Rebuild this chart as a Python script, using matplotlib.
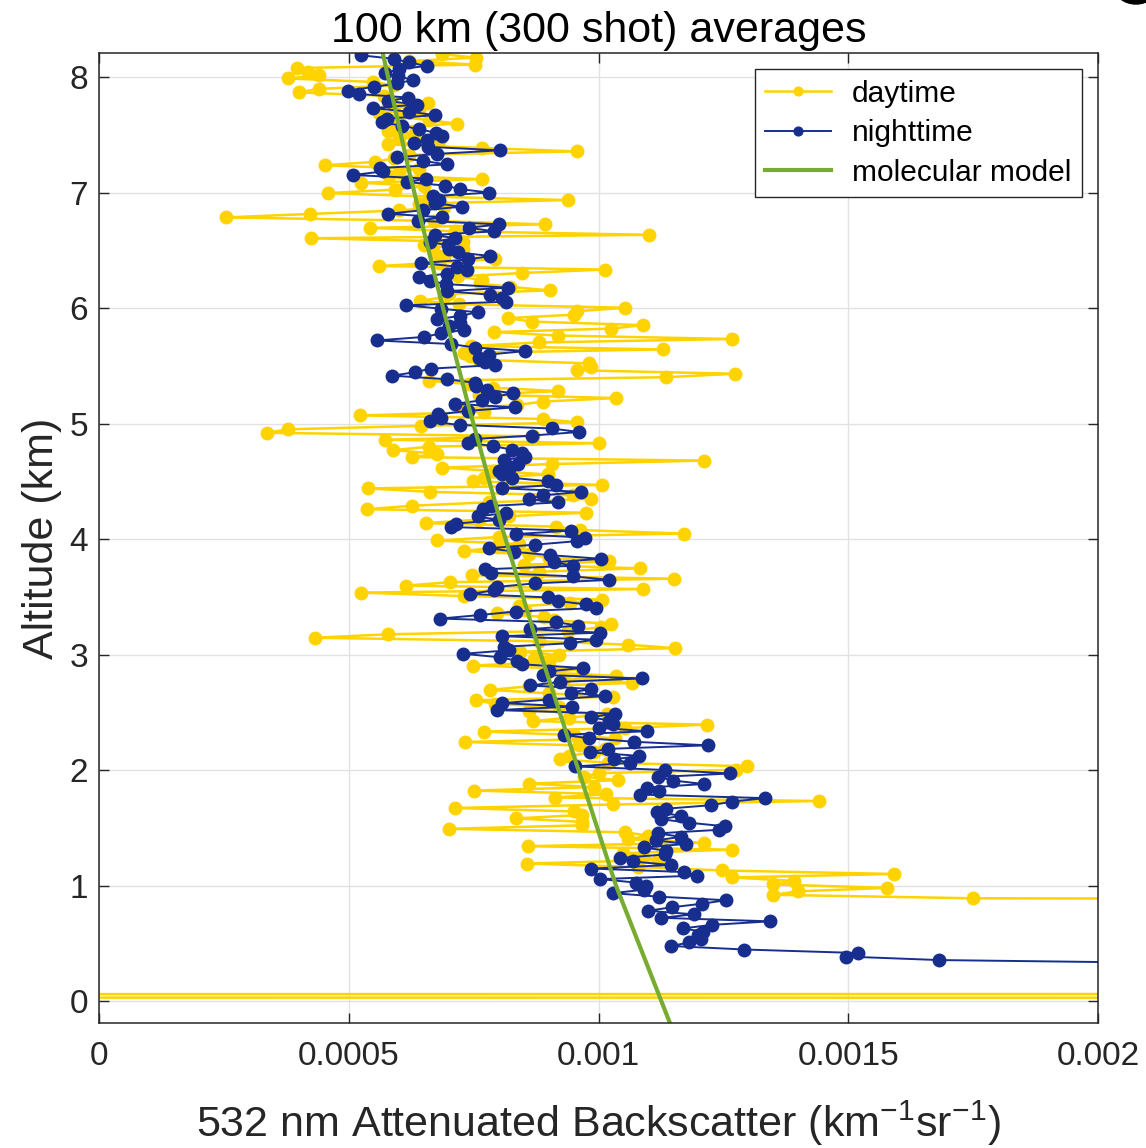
import numpy as np
import matplotlib
matplotlib.use("Agg")
import matplotlib.pyplot as plt
from matplotlib.patches import Ellipse

plt.rcParams['font.family'] = ['Liberation Sans', 'DejaVu Sans']
plt.rcParams['mathtext.default'] = 'regular'

# ---------------- data (backscatter in units of 1e-4 km^-1 sr^-1) ----------------
SCALE = 1e-4

# daytime profile, 30 m bins from the top (8.20 km) down to 0.89 km
day_vals = [
    6.87, 7.55, 6.2, 7.53, 3.96, 4.19, 4.40, 3.79, 5.49, 5.9,
    4.40, 4.00, 5.7, 6.2, 6.58, 5.9, 6.4, 5.6, 6.0, 6.6,
    7.16, 5.9, 5.78, 6.3, 6.0, 6.8, 5.79, 7.66, 9.56, 6.2,
    5.9, 5.53, 4.52, 6.4, 6.0, 5.8, 7.66, 5.24, 6.5, 5.93,
    4.59, 6.6, 9.38, 6.4, 6.9, 6.0, 4.22, 2.54, 6.7, 8.93,
    5.43, 7.13, 11.02, 4.24, 7.29, 6.5, 7.29, 6.7, 6.9, 7.93,
    6.8, 5.61, 10.13, 8.47, 7.19, 7.66, 7.62, 8.23, 9.03, 7.0,
    6.9, 6.43, 7.2, 10.54, 9.57, 9.5, 8.19, 8.67, 10.89, 10.26,
    7.91, 9.19, 12.67, 8.80, 7.45, 11.29, 7.3, 7.42, 7.6, 9.80,
    9.84, 9.57, 12.73, 11.35, 6.60, 7.4, 7.88, 9.19, 7.6, 10.36,
    8.88, 8.37, 7.3, 7.7, 5.23, 8.88, 9.57, 6.45, 3.78, 3.36,
    8.69, 5.72, 10.01, 6.60, 5.89, 6.77, 6.26, 12.12, 9.06, 6.87,
    7.9, 8.98, 7.7, 7.48, 10.07, 5.39, 6.62, 9.49, 9.85, 7.8,
    6.26, 5.36, 9.74, 8.2, 7.6, 6.54, 9.15, 9.63, 11.71, 8.0,
    6.77, 8.4, 7.98, 7.31, 8.6, 9.0, 10.22, 8.5, 10.83, 8.8,
    7.46, 11.51, 7.02, 6.14, 10.89, 5.24, 7.31, 10.07, 9.42, 8.4,
    8.53, 7.96, 8.9, 9.1, 10.26, 10.05, 9.38, 5.79, 4.32, 8.8,
    10.60, 11.54, 8.42, 9.2, 8.7, 9.0, 7.48, 9.67, 8.98, 10.36,
    9.3, 10.68, 8.6, 7.82, 9.0, 10.30, 7.54, 7.92, 9.2, 8.61,
    10.18, 9.4, 8.69, 12.17, 10.53, 7.71, 9.5, 10.33, 7.32, 9.6,
    10.14, 9.9, 9.4, 9.22, 10.2, 12.98, 12.76, 10.0, 9.7, 10.4,
    8.61, 9.9, 7.51, 10.15, 9.12, 14.41, 10.3, 7.13, 9.50, 9.66,
    8.35, 9.66, 9.66, 7.00, 10.54, 11.0, 10.6, 12.11, 8.58, 12.67,
    10.50, 10.9, 11.2, 8.56, 10.8, 12.47, 15.91, 12.67, 13.92, 13.50,
    15.78, 14.00, 13.50, 17.50,
]
day_top_km, day_bottom_km = 8.20, 0.89
# off-scale daytime bins below the cloud-free part (surface return)
day_tail_alt = [0.86, 0.075, 0.045, 0.015]
day_tail_vals = [60.0, 400.0, -400.0, 400.0]

# nighttime profile, 30 m bins from 8.19 km down to 0.355 km
night_vals = [
    5.25, 5.9, 6.2, 6.56, 6.0, 5.73, 5.99, 6.29, 5.96, 5.5,
    4.98, 5.21, 6.19, 5.79, 6.36, 5.49, 6.21, 6.73, 5.76, 5.66,
    6.06, 6.4, 6.75, 6.86, 6.56, 6.3, 6.58, 8.03, 6.76, 5.96,
    6.49, 6.96, 5.63, 5.68, 5.08, 6.55, 6.16, 6.93, 7.23, 7.81,
    6.69, 6.81, 6.73, 7.26, 6.48, 5.79, 6.86, 6.39, 8.01, 7.41,
    7.91, 6.73, 7.13, 6.63, 6.99, 7.0, 7.19, 7.83, 7.39, 6.44,
    7.16, 7.36, 6.96, 6.41, 6.63, 6.95, 8.19, 6.96, 7.82, 8.07,
    8.14, 6.14, 6.85, 7.58, 7.23, 6.77, 7.22, 7.0, 7.31, 6.85,
    6.50, 5.56, 7.04, 7.52, 8.53, 7.81, 7.6, 7.73, 7.92, 6.64,
    6.33, 5.87, 6.96, 7.52, 7.54, 7.77, 8.29, 7.92, 7.67, 7.12,
    8.32, 7.38, 6.79, 6.85, 6.62, 7.22, 9.06, 9.61, 8.67, 7.52,
    7.38, 7.88, 8.27, 8.46, 8.53, 8.11, 8.38, 8.23, 8.00, 8.07,
    8.27, 8.99, 9.15, 8.07, 9.65, 8.88, 8.6, 9.19, 7.85, 7.69,
    8.15, 7.58, 8.00, 7.15, 7.04, 9.45, 8.34, 9.72, 9.57, 8.73,
    7.81, 8.30, 9.03, 10.05, 9.11, 9.49, 7.73, 7.85, 9.49, 10.22,
    8.73, 7.96, 7.9, 7.42, 8.99, 9.19, 9.75, 9.95, 8.34, 7.62,
    6.83, 9.15, 9.59, 8.63, 10.03, 8.07, 9.95, 9.42, 8.11, 8.21,
    7.29, 8.03, 8.37, 8.46, 9.68, 9.0, 8.88, 10.87, 9.22, 8.63,
    9.85, 9.45, 10.14, 9.01, 8.07, 9.47, 7.96, 10.33, 9.85, 10.22,
    10.30, 10.0, 10.97, 9.30, 9.80, 10.72, 12.19, 10.20, 9.82, 10.82,
    10.31, 10.64, 9.53, 11.33, 12.64, 11.19, 11.5, 12.11, 10.98, 11.22,
    10.83, 13.33, 12.67, 12.26, 11.36, 11.17, 11.65, 11.26, 11.82, 12.53,
    12.41, 11.19, 11.65, 11.15, 11.76, 10.92, 11.36, 11.34, 10.44, 10.69,
    11.46, 9.85, 11.72, 11.98, 10.04, 10.75, 10.96, 10.91, 10.29, 11.22,
    12.55, 12.07, 11.47, 10.99, 11.91, 11.26, 13.44, 12.27, 11.69, 12.10,
    11.99, 12.05, 11.82, 11.45, 12.92, 15.20, 14.95, 16.82,
]
night_top_km, night_bottom_km = 8.19, 0.355
night_tail_alt = [0.325, 0.295]
night_tail_vals = [22.5, 40.0]

# molecular model
model_alt = [8.21, 7.2, 6.2, 5.15, 4.1, 3.1, 2.0, 1.0, -0.19]
model_vals = [5.68, 6.20, 6.77, 7.40, 8.07, 8.77, 9.60, 10.35, 11.43]

xticks = [0, 0.0005, 0.001, 0.0015, 0.002]
xticklabels = ['0', '0.0005', '0.001', '0.0015', '0.002']
yticks = [0, 1, 2, 3, 4, 5, 6, 7, 8]

# ---------------- styling ----------------
DAY = '#FFD300'
NIGHT = '#172E8E'
MODEL = '#77AC30'
INK = '#262626'

day_alt = np.concatenate([np.linspace(day_top_km, day_bottom_km, len(day_vals)), day_tail_alt])
day_x = np.array(day_vals + day_tail_vals) * SCALE
night_alt = np.concatenate([np.linspace(night_top_km, night_bottom_km, len(night_vals)), night_tail_alt])
night_x = np.array(night_vals + night_tail_vals) * SCALE
model_x = np.array(model_vals) * SCALE

W, H = 1146, 1148
fig = plt.figure(figsize=(W / 100, H / 100), dpi=100)
ax = fig.add_axes([99 / W, 1 - 1023 / H, 999 / W, 970 / H])

ax.plot(day_x, day_alt, '-o', color=DAY, lw=1.8, ms=9, mec=DAY, mfc=DAY,
        label='daytime', zorder=3)
ax.plot(night_x, night_alt, '-o', color=NIGHT, lw=1.4, ms=9, mec=NIGHT, mfc=NIGHT,
        label='nighttime', zorder=4)
ax.plot(model_x, model_alt, '-', color=MODEL, lw=3.0, label='molecular model', zorder=5)

ax.set_xlim(0, 0.002)
ax.set_ylim(-0.19, 8.21)
ax.set_xticks(xticks)
ax.set_xticklabels(xticklabels)
ax.set_yticks(yticks)

ax.grid(True, color='#E2E2E2', lw=1.0)
ax.set_axisbelow(True)
for s in ax.spines.values():
    s.set_color(INK)
    s.set_linewidth(1.1)
    s.set_zorder(6)
ax.tick_params(direction='in', length=7, width=1.0, top=True, right=True,
               colors=INK, labelsize=24)
ax.tick_params(axis='x', pad=13)
ax.tick_params(axis='y', pad=8)

ax.set_title('100 km (300 shot) averages', fontsize=31, color='black', pad=8)
ax.set_xlabel('532 nm Attenuated Backscatter (km$^{-1}$sr$^{-1}$)', fontsize=31, color=INK)
ax.set_ylabel('Altitude (km)', fontsize=31, color=INK)
ax.xaxis.set_label_coords(0.5, -0.078)
ax.yaxis.set_label_coords(-0.037, 0.5)

leg = ax.legend(loc='upper right', fontsize=21.5, handlelength=2.2, handletextpad=0.7,
                borderaxespad=0.55, borderpad=0.35, labelspacing=0.38, fancybox=False,
                edgecolor=INK, framealpha=1.0, markerscale=0.7, numpoints=1)
leg.get_frame().set_linewidth(1.0)

# partial black mark cut off at the top-right corner of the source image
fig.patches.append(Ellipse((1136 / W, 1 + 14 / H), 44 / W, 36 / H, transform=fig.transFigure,
                           color='black', zorder=10))

fig.savefig('out.png', dpi=100)
